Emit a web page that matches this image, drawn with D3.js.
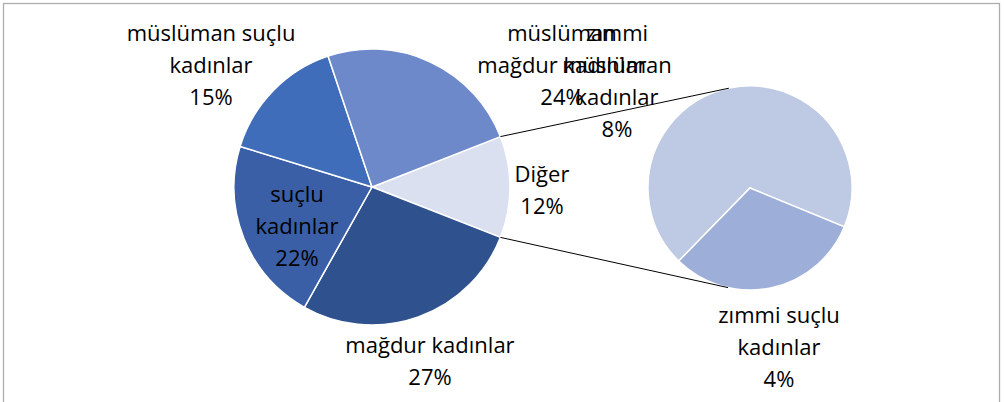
<!DOCTYPE html>
<html>
<head>
<meta charset="utf-8">
<script src="https://cdn.jsdelivr.net/npm/d3@7"></script>
<style>
  body { margin: 0; background: #fff; }
  svg { display: block; }
  .lbl { font-family: "Open Sans", "Noto Sans", sans-serif; font-size: 22px; fill: #000; }
</style>
</head>
<body>
<svg id="chart" width="1004" height="402"></svg>
<script>
// values (percent of total)
const categories = ["mağdur kadınlar", "suçlu kadınlar", "müslüman suçlu kadınlar", "müslüman mağdur kadınlar", "zımmi müslüman kadınlar", "zımmi suçlu kadınlar"];
const values = [27.2, 21.6, 15.1, 24.2, 8.2, 3.7];
const secondPlotCount = 2; // last two go to the small pie
const otherName = "Diğer";

// how the labels wrap, like Excel did it
const labelLines = {
  "mağdur kadınlar": ["mağdur kadınlar"],
  "suçlu kadınlar": ["suçlu", "kadınlar"],
  "müslüman suçlu kadınlar": ["müslüman suçlu", "kadınlar"],
  "müslüman mağdur kadınlar": ["müslüman", "mağdur kadınlar"],
  "zımmi müslüman kadınlar": ["zımmi", "müslüman", "kadınlar"],
  "zımmi suçlu kadınlar": ["zımmi suçlu", "kadınlar"],
  "Diğer": ["Diğer"]
};

const mainColors = {
  "Diğer": "#dae0ef",
  "mağdur kadınlar": "#2f528f",
  "suçlu kadınlar": "#3a5fa7",
  "müslüman suçlu kadınlar": "#3f6dba",
  "müslüman mağdur kadınlar": "#6e89ca"
};
const secondColors = {
  "zımmi müslüman kadınlar": "#bec9e4",
  "zımmi suçlu kadınlar": "#9daed8"
};

// label anchors (x, first baseline) relative to each pie centre
const labelPos = {
  "müslüman suçlu kadınlar": [-161, -146],
  "müslüman mağdur kadınlar": [190, -146],
  "suçlu kadınlar": [-75, 15],
  "mağdur kadınlar": [58, 166],
  "Diğer": [170, -5],
  "zımmi müslüman kadınlar": [-133, -147],
  "zımmi suçlu kadınlar": [29, 135]
};

const W = 1004, H = 402;
const svg = d3.select("#chart");

svg.append("rect")
  .attr("x", 3.5).attr("y", 3.5)
  .attr("width", 996).attr("height", H + 10)
  .attr("fill", "#fff")
  .attr("stroke", "#adadad")
  .attr("stroke-width", 1.3);

const total = d3.sum(values);
const pct = d3.format(".0%");

const mainData = categories.slice(0, categories.length - secondPlotCount)
  .map((c, i) => ({ name: c, value: values[i] }));
const secondData = categories.slice(categories.length - secondPlotCount)
  .map((c, i) => ({ name: c, value: values[categories.length - secondPlotCount + i] }));
const otherValue = d3.sum(secondData, d => d.value);

const mainCx = 372, mainCy = 187, mainR = 138;
const secCx = 750, secCy = 188, secR = 102;

// "Diğer" slice sits centred on the right, facing the small pie
const otherAngle = otherValue / total * 2 * Math.PI;
const mainStart = Math.PI / 2 - otherAngle / 2;
const mainPie = d3.pie().sort(null).value(d => d.value)
  .startAngle(mainStart).endAngle(mainStart + 2 * Math.PI);
const mainArcs = mainPie([{ name: otherName, value: otherValue }].concat(mainData));

const secStart = -135.7 * Math.PI / 180;
const secPie = d3.pie().sort(null).value(d => d.value)
  .startAngle(secStart).endAngle(secStart + 2 * Math.PI);
const secArcs = secPie(secondData);

const arcMain = d3.arc().innerRadius(0).outerRadius(mainR);
const arcSec = d3.arc().innerRadius(0).outerRadius(secR);

const gMain = svg.append("g").attr("transform", `translate(${mainCx},${mainCy})`);
gMain.selectAll("path").data(mainArcs).join("path")
  .attr("d", arcMain)
  .attr("fill", d => mainColors[d.data.name])
  .attr("stroke", "#fff")
  .attr("stroke-width", 1.5);

const gSec = svg.append("g").attr("transform", `translate(${secCx},${secCy})`);
gSec.selectAll("path").data(secArcs).join("path")
  .attr("d", arcSec)
  .attr("fill", d => secondColors[d.data.name])
  .attr("stroke", "#fff")
  .attr("stroke-width", 1.5);

// series lines: from the edges of "Diğer" tangent to the small pie
const other = mainArcs[0];
function polar(cx, cy, r, a) { return [cx + r * Math.sin(a), cy - r * Math.cos(a)]; }
function tangent(p, side) {
  const vx = p[0] - secCx, vy = p[1] - secCy;
  const d = Math.hypot(vx, vy);
  const t = Math.acos(secR / d) * side;
  const ux = vx / d, uy = vy / d;
  return [secCx + secR * (ux * Math.cos(t) - uy * Math.sin(t)),
          secCy + secR * (ux * Math.sin(t) + uy * Math.cos(t))];
}
const pTop = polar(mainCx, mainCy, mainR, other.startAngle);
const pBot = polar(mainCx, mainCy, mainR, other.endAngle);
const lines = [[pTop, tangent(pTop, 1)], [pBot, tangent(pBot, -1)]];
svg.selectAll("line.series").data(lines).join("line")
  .attr("class", "series")
  .attr("x1", d => d[0][0]).attr("y1", d => d[0][1])
  .attr("x2", d => d[1][0]).attr("y2", d => d[1][1])
  .attr("stroke", "#000")
  .attr("stroke-width", 1);

// data labels
const labels = mainArcs.map(a => ({ name: a.data.name, value: a.data.value, cx: mainCx, cy: mainCy }))
  .concat(secArcs.map(a => ({ name: a.data.name, value: a.data.value, cx: secCx, cy: secCy })));

const lineH = 32;
const lg = svg.append("g");
labels.forEach(l => {
  const rows = labelLines[l.name].concat([pct(l.value / total)]);
  const pos = labelPos[l.name];
  const t = lg.append("text")
    .attr("class", "lbl")
    .attr("text-anchor", "middle");
  rows.forEach((r, i) => {
    t.append("tspan")
      .attr("x", l.cx + pos[0])
      .attr("y", l.cy + pos[1] + i * lineH)
      .text(r);
  });
});
</script>
</body>
</html>
